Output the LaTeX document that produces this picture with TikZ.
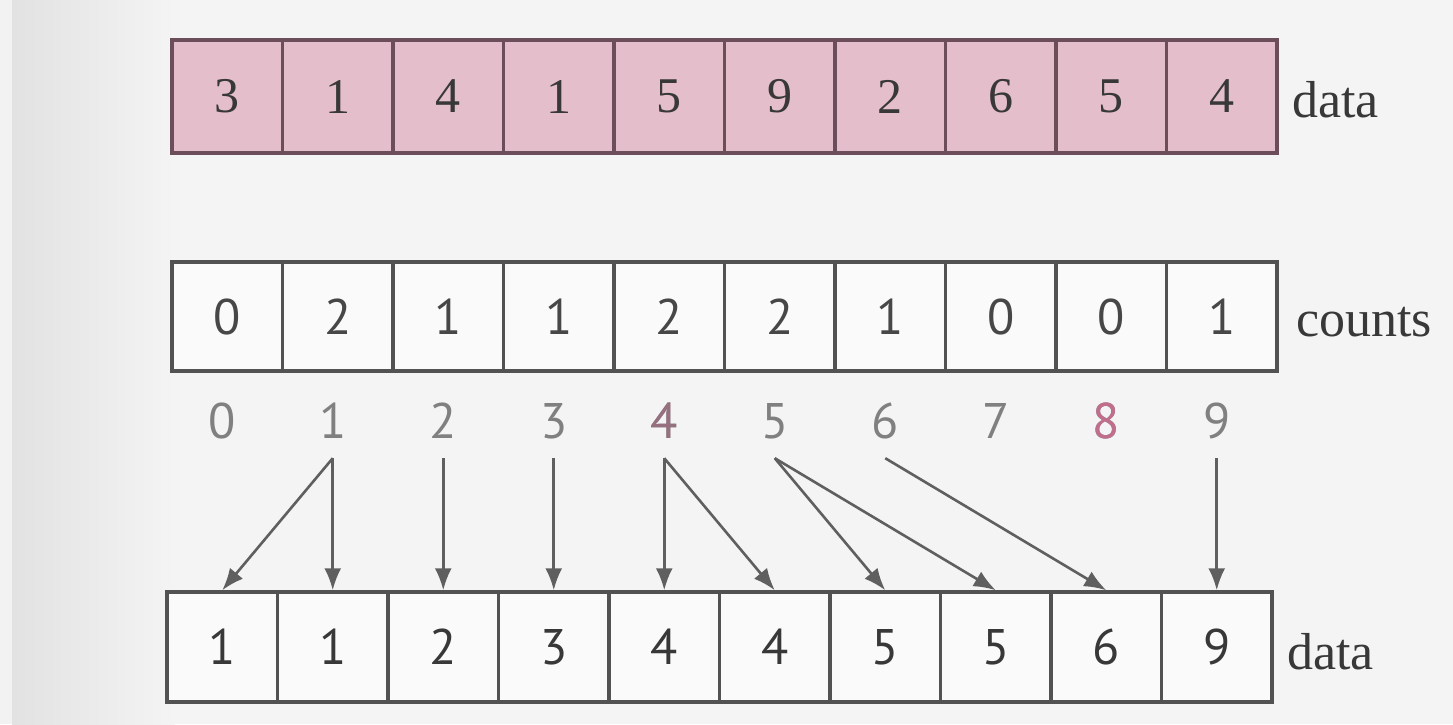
\documentclass[tikz,border=0pt]{standalone}
\usepackage{fontspec}
\newfontfamily\digitsans{PT Sans}
\newfontfamily\labserif{Liberation Serif}
\usetikzlibrary{arrows.meta}
\definecolor{bgc}{RGB}{244,244,244}
\definecolor{bandc}{RGB}{226,226,226}
\definecolor{pinkfill}{RGB}{228,190,202}
\definecolor{pinkline}{RGB}{108,78,90}
\definecolor{boxline}{RGB}{82,82,82}
\definecolor{arrc}{RGB}{95,95,95}
\definecolor{idxc}{RGB}{128,128,128}
\definecolor{idxpink}{RGB}{192,110,140}
\definecolor{idxmauve}{RGB}{150,112,126}
\begin{document}
\begin{tikzpicture}[x=1pt,y=-1pt,
  topcell/.style={draw=pinkline, fill=pinkfill, line width=3.5pt,
    minimum width=110.5pt, minimum height=113pt, inner sep=0pt,
    font=\labserif\fontsize{50}{60}\selectfont, text=black!78},
  cntcell/.style={draw=boxline, fill=white!96!gray, line width=3.5pt,
    minimum width=110.5pt, minimum height=109pt, inner sep=0pt,
    font=\digitsans\fontsize{50}{60}\selectfont, text=black!72},
  botcell/.style={draw=boxline, fill=white!96!gray, line width=3.5pt,
    minimum width=110.5pt, minimum height=110pt, inner sep=0pt,
    font=\digitsans\fontsize{50}{60}\selectfont, text=black!78},
  idx/.style={anchor=base, inner sep=0pt, text depth=20pt,
    font=\digitsans\fontsize{50}{60}\selectfont, text=idxc},
  lab/.style={anchor=west, inner sep=0pt,
    font=\labserif\fontsize{52}{60}\selectfont, text=black!78},
  arr/.style={draw=arrc, line width=2.6pt,
    -{Latex[length=22pt,width=17pt]}}
]
\useasboundingbox (0,0) rectangle (1453,724);
\fill[bgc] (0,0) rectangle (1453,724);
\shade[left color=bandc, right color=bgc] (12,0) rectangle (175,724);
\fill[white!90!gray] (0,0) rectangle (12,724);

% top data array
\foreach \v [count=\i from 0] in {3,1,4,1,5,9,2,6,5,4}
  \node[topcell] (t\i) at (172+55.25+110.5*\i, 96.5) {\v};
\node[lab] (ltop) at (1292, 100) {data};

% counts array
\foreach \v [count=\i from 0] in {0,2,1,1,2,2,1,0,0,1}
  \node[cntcell] (c\i) at (172+55.25+110.5*\i, 316.5) {\v};
\node[lab] (lcnt) at (1296, 322) {counts};

% index labels
\foreach \v in {0,...,9}
  \node[idx] (i\v) at (167+55.25+110.5*\v, 438) {\v};
\node[idx, text=idxmauve] at (i4.base) {4};
\node[idx, text=idxpink] at (i8.base) {8};

% bottom sorted data array
\foreach \v [count=\i from 0] in {1,1,2,3,4,4,5,5,6,9}
  \node[botcell] (b\i) at (167+55.25+110.5*\i, 647) {\v};
\node[lab] (lbot) at (1287, 652) {data};

% arrows
\draw[arr] (i1.south) -- (b0.north);
\draw[arr] (i1.south) -- (b1.north);
\draw[arr] (i2.south) -- (b2.north);
\draw[arr] (i3.south) -- (b3.north);
\draw[arr] (i4.south) -- (b4.north);
\draw[arr] (i4.south) -- (b5.north);
\draw[arr] (i5.south) -- (b6.north);
\draw[arr] (i5.south) -- (b7.north);
\draw[arr] (i6.south) -- (b8.north);
\draw[arr] (i9.south) -- (b9.north);
\end{tikzpicture}
\end{document}
